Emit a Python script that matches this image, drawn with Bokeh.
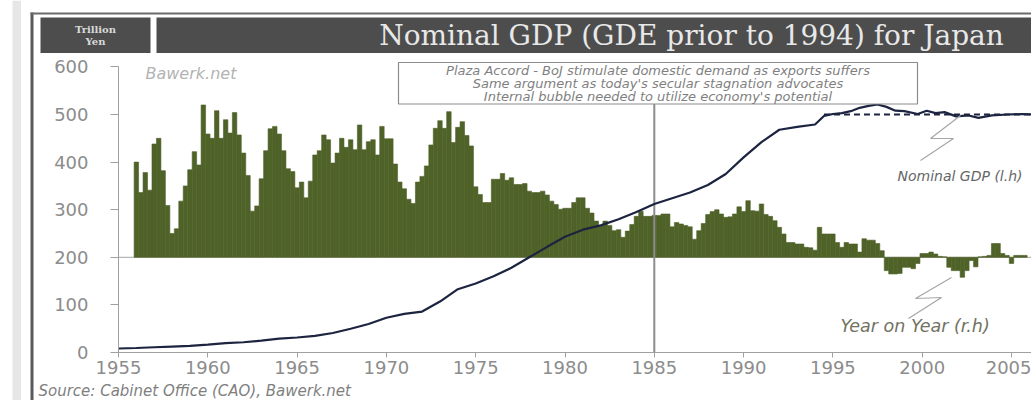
import numpy as np
from bokeh.plotting import figure
from bokeh.models import Range1d, LinearAxis, FixedTicker
from bokeh.core.properties import value
from bokeh.embed import file_html
from bokeh.resources import INLINE

# ---------------- data ----------------
# Quarterly year-on-year growth of nominal GDP, %, first quarter 1955Q4
yoy_first_quarter = 1955.875
yoy_pct = [
    10.0, 6.8, 8.9, 7.05, 11.9, 12.5, 9.1, 5.45, 2.5, 3.0,
    5.9, 7.5, 9.2, 11.1, 9.7, 16.0, 12.95, 12.5, 15.4, 12.5,
    14.45, 13.05, 15.2, 12.85, 10.95, 8.6, 4.85, 5.4, 8.25, 11.2,
    13.5, 13.75, 12.95, 11.2, 9.3,
    9.0, 7.3, 7.9, 6.25, 8.0, 10.75, 11.2, 12.85, 12.35, 9.9,
    10.95, 12.5, 11.55, 12.35, 11.3, 13.9, 11.3, 12.15, 12.35, 10.75,
    13.75, 12.45, 12.45, 9.8, 7.9, 7.2, 6.1, 5.65, 7.9, 8.5,
    9.6, 11.8, 13.55, 14.35, 13.55, 15.3, 12.05, 13.65, 14.25, 12.8,
    11.7,
    7.4, 6.6, 5.75, 5.75, 8.2, 8.2, 8.8, 8.1, 8.35, 7.65,
    7.65, 7.75, 6.95, 6.8, 6.8, 6.95, 6.55, 5.9, 5.55, 5.05,
    5.15, 5.15, 5.75, 6.25, 6.25, 5.15, 4.65, 3.8, 3.35, 3.8,
    3.35, 2.8, 2.9, 2.1, 2.75, 3.45, 4.3, 4.85, 4.3, 4.3,
    4.4, 4.4, 4.55, 4.55, 3.2, 3.65, 3.5, 3.35, 3.2, 1.9,
    2.8, 3.55, 4.5, 4.8, 5.0, 4.55, 4.2, 4.25, 4.55, 5.3,
    4.8, 5.95, 4.9, 4.85, 5.6, 4.5, 4.3, 3.85, 3.15, 2.45,
    1.55, 1.55, 1.4, 1.4, 1.05, 1.0, 0.75, 3.15, 2.45, 2.45,
    2.45, 1.55, 1.05, 1.55, 1.4, 1.4, 0.55, 1.95, 1.8, 1.8,
    1.45, 0.7, -1.4, -1.75, -1.75, -1.7, -1.05, -1.05, -1.2, -0.65,
    0.4, 0.4, 0.55, 0.35, 0.1, 0.05, -1.05, -1.4, -1.4, -2.1,
    -1.4, -0.35, -1.0, 0.05, 0.1, 0.2, 1.45, 1.45, 0.4, 0.2,
    -0.65, 0.2, 0.2, 0.2,
]

# Nominal GDP, trillion yen
gdp_years = [1955, 1956, 1957, 1958, 1959, 1960, 1961, 1962, 1963, 1964,
             1965, 1966, 1967, 1968, 1969, 1970, 1971, 1972, 1973, 1974,
             1975, 1976, 1977, 1978, 1979, 1980, 1981, 1982, 1983, 1984,
             1985, 1986, 1987, 1988, 1989, 1990, 1991, 1992, 1993, 1994,
             1994.5, 1995, 1995.5, 1996, 1996.5, 1997, 1997.5, 1998, 1998.5, 1999,
             1999.75, 2000.25, 2000.75, 2001.25, 2001.9, 2002.6, 2003.15, 2003.9,
             2004.8, 2005.6, 2006.2]
gdp_values = [8.4, 9.5, 11, 12.5, 14, 16.7, 19.5, 21.5, 25, 29,
              31.5, 35, 41, 50, 60, 73, 81, 86, 107, 133,
              145, 160, 178, 200, 222, 243, 258, 267, 280, 295,
              312, 324, 336, 352, 375, 410, 442, 468, 474, 479,
              497, 501, 503, 507, 514, 518, 521, 516, 508, 507,
              501, 508, 503, 505, 496, 498, 493, 498,
              500, 501, 500]

plateau_level = 500        # dashed reference level
plateau_from = 1994.5
plaza_accord_year = 1985

x_ticks = [1955, 1960, 1965, 1970, 1975, 1980, 1985, 1990, 1995, 2000, 2005]
y_ticks = [0, 100, 200, 300, 400, 500, 600]
yoy_zero_on_left = 200     # 0 % of the right-hand scale sits at 200 on the left
yoy_units_per_pct = 20

title_text = "Nominal GDP (GDE prior to 1994) for Japan"
unit_lines = ["Trillion", "Yen"]
note_lines = ["Plaza Accord - BoJ stimulate domestic demand as exports suffers",
              "Same argument as today's secular stagnation advocates",
              "Internal bubble needed to utilize economy's potential"]

# ---------------- geometry ----------------
W, H = 1031, 400
PX_YEAR = 17.86            # pixels per year
X_1955 = 118               # page x of 1955
PX_UNIT = 0.476            # pixels per trillion yen
Y_ZERO = 352               # page y of 0


def X(px):
    return 1955 + (px - X_1955) / PX_YEAR


def Y(py):
    return (Y_ZERO - py) / PX_UNIT


x0, x1 = X(0), X(W)
y0, y1 = Y(H), Y(0)

p = figure(width=W, height=H, x_range=Range1d(x0, x1), y_range=Range1d(y0, y1),
           output_backend="svg", toolbar_location=None,
           x_axis_location=None, y_axis_location=None,
           min_border=0, min_border_left=0, min_border_right=0,
           min_border_top=0, min_border_bottom=0)
p.outline_line_color = None
p.background_fill_color = "white"
p.border_fill_color = "white"
p.xgrid.visible = False
p.ygrid.visible = False

p.extra_y_ranges = {"yoy": Range1d((y0 - yoy_zero_on_left) / yoy_units_per_pct,
                                   (y1 - yoy_zero_on_left) / yoy_units_per_pct)}

# ---------------- frame decorations ----------------
p.quad(left=[X(12)], right=[X(20.5)], top=[Y(0)], bottom=[Y(400)],
       fill_color="#e6e6e6", line_color=None)
p.segment(x0=[X(31.5)], y0=[Y(12)], x1=[X(31.5)], y1=[Y(400)],
          line_color="#5a5a5a", line_width=3)
p.segment(x0=[X(30)], y0=[Y(13)], x1=[X(1040)], y1=[Y(13)],
          line_color="#6b6b6b", line_width=2)

# title bar
p.quad(left=[X(40), X(156)], right=[X(150), X(1045)], top=[Y(17), Y(17)],
       bottom=[Y(52.5), Y(52.5)], fill_color="#4d4d4d", line_color=None)
p.text(x=[X(95), X(95)], y=[Y(29), Y(41)], text=unit_lines,
       text_font=value("DejaVu Serif"), text_font_size="10px", text_font_style="bold",
       text_color="#d9d9d9", text_align="center", text_baseline="middle")
p.text(x=[X(691)], y=[Y(35)], text=[title_text],
       text_font=value("DejaVu Serif"), text_font_size="28px",
       text_color="#e8e8e8", text_align="center", text_baseline="middle")

# ---------------- data marks ----------------
p.segment(x0=[1955], y0=[yoy_zero_on_left], x1=[x1], y1=[yoy_zero_on_left],
          line_color="#a6a6a6", line_width=1)

lefts = yoy_first_quarter + 0.25 * np.arange(len(yoy_pct))
p.quad(left=lefts, right=lefts + 0.25, bottom=0, top=yoy_pct, y_range_name="yoy",
       fill_color="#4f6228", line_color="#4f6228", line_width=0.6)

p.segment(x0=[plaza_accord_year], y0=[0], x1=[plaza_accord_year], y1=[Y(103)],
          line_color="#8c8c8c", line_width=2)

p.line(gdp_years, gdp_values, line_color="#1c2440", line_width=2.2)
p.line([plateau_from, x1], [plateau_level, plateau_level], line_color="#1c2440",
       line_width=2, line_dash="6 4")

# ---------------- axes ----------------
xaxis = LinearAxis(fixed_location=0, ticker=FixedTicker(ticks=x_ticks), bounds=(1955, x1))
xaxis.axis_line_color = "#a0a0a0"
xaxis.major_tick_line_color = "#a0a0a0"
xaxis.major_tick_out = 5
xaxis.major_tick_in = 0
xaxis.minor_tick_line_color = None
xaxis.major_label_standoff = 3
xaxis.major_label_text_font = "DejaVu Sans"
xaxis.major_label_text_font_size = "18px"
xaxis.major_label_text_color = "#8c8c8c"
p.add_layout(xaxis, "below")

yaxis = LinearAxis(fixed_location=1955, ticker=FixedTicker(ticks=y_ticks), bounds=(0, 600))
yaxis.axis_line_color = "#a0a0a0"
yaxis.major_tick_line_color = "#a0a0a0"
yaxis.major_tick_out = 8
yaxis.major_tick_in = 0
yaxis.minor_tick_line_color = None
yaxis.major_label_standoff = 22
yaxis.major_label_text_font = "DejaVu Sans"
yaxis.major_label_text_font_size = "18px"
yaxis.major_label_text_color = "#8c8c8c"
p.add_layout(yaxis, "left")

# ---------------- annotations ----------------
p.quad(left=[X(398)], right=[X(917)], top=[Y(62)], bottom=[Y(103.5)],
       fill_color="white", line_color="#8c8c8c", line_width=1.2)
p.text(x=[X(657.5)] * 3, y=[Y(70.3), Y(83), Y(95.7)], text=note_lines,
       text_font=value("DejaVu Sans"), text_font_style="italic", text_font_size="13px",
       text_color="#7f7f7f", text_align="center", text_baseline="middle")

p.text(x=[X(145)], y=[Y(73)], text=["Bawerk.net"],
       text_font=value("DejaVu Sans"), text_font_style="italic", text_font_size="16px",
       text_color="#b3b3b3", text_align="left", text_baseline="middle")

p.line([X(960), X(930), X(953), X(920)], [Y(115), Y(138), Y(138), Y(160)],
       line_color="#a6a6a6", line_width=1.2)
p.text(x=[X(897)], y=[Y(175)], text=["Nominal GDP (l.h)"],
       text_font=value("DejaVu Sans"), text_font_style="italic", text_font_size="14px",
       text_color="#666666", text_align="left", text_baseline="middle")

p.line([X(951), X(915), X(941), X(908)], [Y(277), Y(298), Y(297), Y(318)],
       line_color="#a6a6a6", line_width=1.2)
p.text(x=[X(840)], y=[Y(325)], text=["Year on Year (r.h)"],
       text_font=value("DejaVu Sans"), text_font_style="italic", text_font_size="17.5px",
       text_color="#727262", text_align="left", text_baseline="middle")

p.text(x=[X(38)], y=[Y(399)], text=["Source: Cabinet Office (CAO), Bawerk.net"],
       text_font=value("DejaVu Sans"), text_font_style="italic", text_font_size="15px",
       text_color="#7f7f7f", text_align="left", text_baseline="bottom")

open("out.html", "w").write(file_html(p, INLINE))
